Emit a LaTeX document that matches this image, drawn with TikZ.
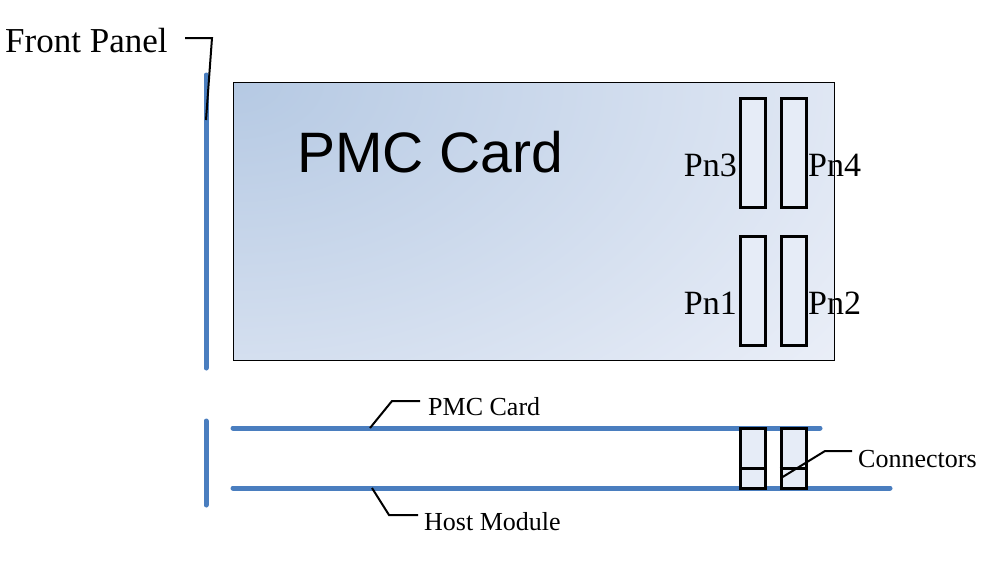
\documentclass[tikz,border=0pt]{standalone}
\usepackage{fontspec}
\setmainfont{Liberation Serif}
\newfontfamily\arialfont{Liberation Sans}
\definecolor{panelblue}{HTML}{4A7EBF}
\definecolor{cardA}{HTML}{B5C9E3}
\definecolor{cardB}{HTML}{EBEFF8}
\definecolor{pinfill}{HTML}{E6ECF7}
\begin{document}
\begin{tikzpicture}[x=1pt,y=-1pt,
  bluebar/.style={draw=panelblue,line width=5pt,line cap=round},
  leader/.style={draw=black,line width=2pt},
  cardbox/.style={draw=black,line width=0.8pt,inner sep=0pt,fill=cardB,
    path picture={\shade[inner color=cardA,outer color=cardB] (path picture bounding box.north west) ellipse (760pt and 480pt);}},
  pinbox/.style={draw=black,line width=3pt,fill=pinfill,inner sep=0pt,minimum width=25pt},
  lbl/.style={inner sep=0pt,font=\fontsize{34}{36}\selectfont},
  slbl/.style={inner sep=0pt,font=\fontsize{26}{30}\selectfont}]
\useasboundingbox (0,0) rectangle (988,562);
% front panel top
\coordinate (fpA) at (206,75);
\coordinate (fpB) at (206,368);
\draw[bluebar] (fpA) -- (fpB);
% card
\node[cardbox,minimum width=601pt,minimum height=278pt] (card) at (533.5,221) {};
\node[inner sep=0pt,anchor=base west,font=\arialfont\fontsize{57}{60}\selectfont] (title) at (297,172) {PMC Card};
% pins
\node[pinbox,minimum height=109pt] (pn3box) at (753,153) {};
\node[pinbox,minimum height=109pt] (pn4box) at (793.5,153) {};
\node[pinbox,minimum height=109pt] (pn1box) at (753,291) {};
\node[pinbox,minimum height=109pt] (pn2box) at (793.5,291) {};
\node[lbl,anchor=base east] (pn3) at (737,176) {Pn3};
\node[lbl,anchor=base west] (pn4) at (808,176) {Pn4};
\node[lbl,anchor=base east] (pn1) at (737,314) {Pn1};
\node[lbl,anchor=base west] (pn2) at (808,314) {Pn2};
% front panel label
\node[inner sep=0pt,font=\fontsize{35}{38}\selectfont,anchor=base west] (fplabel) at (5,52) {Front Panel};
\coordinate (fpL1) at (185,38);
\coordinate (fpL2) at (212,38);
\coordinate (fpL3) at (206,120);
\draw[leader] (fpL1) -- (fpL2) -- (fpL3);
% side view
\coordinate (sA) at (206,421);
\coordinate (sB) at (206,505);
\draw[bluebar] (sA) -- (sB);
\coordinate (pmcA) at (233,428);
\coordinate (pmcB) at (820,428);
\coordinate (hostA) at (233,488);
\coordinate (hostB) at (890,488);
\draw[bluebar] (pmcA) -- (pmcB);
\draw[bluebar] (hostA) -- (hostB);
\node[pinbox,minimum height=60pt] (cA) at (753,458.5) {};
\node[pinbox,minimum height=60pt] (cB) at (793.5,458.5) {};
\draw[line width=3pt] ([yshift=-9.5pt]cA.west) -- ([yshift=-9.5pt]cA.east);
\draw[line width=3pt] ([yshift=-9.5pt]cB.west) -- ([yshift=-9.5pt]cB.east);
% labels
\node[slbl,anchor=base west] (pmclbl) at (428,415) {PMC Card};
\node[slbl,anchor=base west] (hostlbl) at (424,530) {Host Module};
\node[slbl,anchor=base west] (connlbl) at (858,467) {Connectors};
\coordinate (l1a) at (370,428);
\coordinate (l1b) at (392,401);
\draw[leader] (l1a) -- (l1b) -- ([xshift=-8pt]l1b -| pmclbl.west);
\coordinate (l2a) at (372,488);
\coordinate (l2b) at (389,515);
\draw[leader] (l2a) -- (l2b) -- ([xshift=-6pt]l2b -| hostlbl.west);
\coordinate (l3a) at (781,478);
\coordinate (l3b) at (825,451);
\draw[leader] (l3a) -- (l3b) -- ([xshift=-6pt]l3b -| connlbl.west);
\end{tikzpicture}
\end{document}
